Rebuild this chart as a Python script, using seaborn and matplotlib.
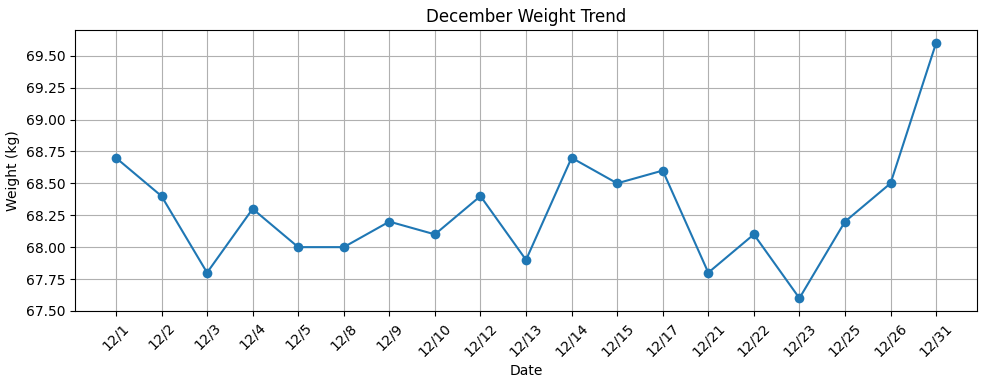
import pandas as pd
import matplotlib
matplotlib.use("Agg")
import matplotlib.pyplot as plt
import seaborn as sns

# datos
fechas = ["12/1", "12/2", "12/3", "12/4", "12/5", "12/8", "12/9", "12/10", "12/12",
          "12/13", "12/14", "12/15", "12/17", "12/21", "12/22", "12/23", "12/25",
          "12/26", "12/31"]
pesos = [68.7, 68.4, 67.8, 68.3, 68.0, 68.0, 68.2, 68.1, 68.4,
         67.9, 68.7, 68.5, 68.6, 67.8, 68.1, 67.6, 68.2,
         68.5, 69.6]

df = pd.DataFrame({"Date": fechas, "Weight": pesos})

fig, ax = plt.subplots(figsize=(9.86, 3.82), dpi=100)
sns.lineplot(data=df, x="Date", y="Weight", sort=False, marker="o",
             markersize=7, markeredgewidth=0, color="#1f77b4", ax=ax)
ax.set_title("December Weight Trend")
ax.set_xlabel("Date")
ax.set_ylabel("Weight (kg)")
ax.yaxis.set_major_formatter(matplotlib.ticker.FormatStrFormatter("%.2f"))
ax.grid(True)
plt.xticks(rotation=45)
plt.subplots_adjust(left=0.076, right=0.991, top=0.921, bottom=0.186)
plt.savefig("out.png", dpi=100)
